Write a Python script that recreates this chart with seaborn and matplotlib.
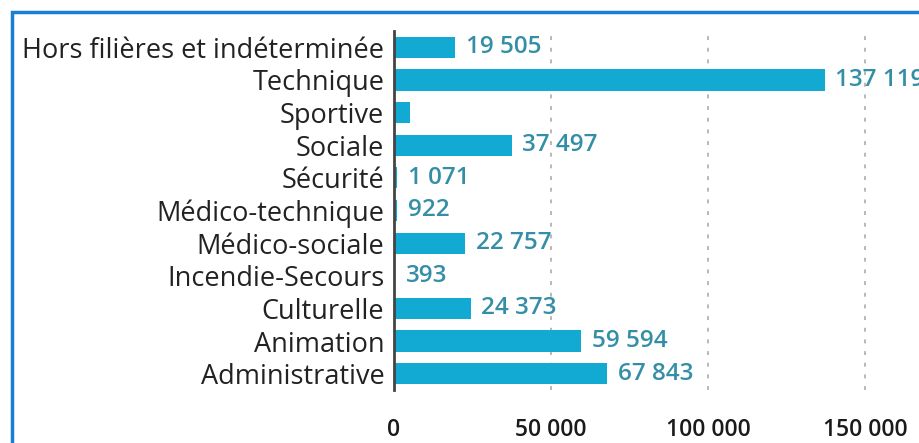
import matplotlib
matplotlib.use("Agg")
import matplotlib.pyplot as plt
import seaborn as sns
import pandas as pd
from matplotlib.patches import Rectangle

categories = ["Hors filières et indéterminée", "Technique", "Sportive", "Sociale",
              "Sécurité", "Médico-technique", "Médico-sociale", "Incendie-Secours",
              "Culturelle", "Animation", "Administrative"]
values = [19505, 137119, 5000, 37497, 1071, 922, 22757, 393, 24373, 59594, 67843]
value_labels = ["19 505", "137 119", "", "37 497", "1 071", "922", "22 757", "393",
                "24 373", "59 594", "67 843"]
xticks = [0, 50000, 100000, 150000]
xtick_labels = ["0", "50 000", "100 000", "150 000"]

sns.set_theme(style="white")
plt.rcParams["font.family"] = ["Open Sans", "DejaVu Sans"]

W, H = 920, 443
fig = plt.figure(figsize=(W / 100, H / 100), dpi=100)
ax = fig.add_axes([394 / W, 1 - 390 / H, 1 - 394 / W, 359 / H])

df = pd.DataFrame({"cat": categories, "val": values})
bar_color = "#12a9d3"
sns.barplot(data=df, x="val", y="cat", orient="h", color=bar_color,
            width=0.65, ax=ax, saturation=1, edgecolor="none", zorder=3)

ax.set_xlim(0, 167500)
ax.set_ylim(10.5, -0.5)
for t in xticks[1:]:
    ax.axvline(t, color="#b8b8b8", linestyle=(0, (2, 4)), linewidth=1.4, zorder=1)

label_color = "#348fa6"
for i, (v, lab) in enumerate(zip(values, value_labels)):
    if lab:
        ax.text(v + 3400, i, lab, va="center", ha="left", fontsize=17.5,
                color=label_color, fontweight="semibold", zorder=4, clip_on=False)

ax.set_xticks(xticks)
ax.set_xticklabels(xtick_labels, fontsize=16.5, color="#1a1a1a", fontweight="semibold")
ax.tick_params(axis="x", length=0, pad=20)
ax.tick_params(axis="y", length=0, pad=7)
for lbl in ax.get_yticklabels():
    lbl.set_fontsize(19.5)
    lbl.set_color("#222222")
ax.set_xlabel("")
ax.set_ylabel("")
for s in ["top", "right", "bottom"]:
    ax.spines[s].set_visible(False)
ax.spines["left"].set_color("#444444")
ax.spines["left"].set_linewidth(2)
ax.spines["left"].set_zorder(5)

# blue frame
fig.patches.append(Rectangle((11.5 / W, -0.2), 1.2, 1.2 - 11.5 / H,
                             transform=fig.transFigure, fill=False,
                             edgecolor="#1a7fd4", linewidth=2.5, zorder=0))

fig.savefig("out.png", dpi=100)
